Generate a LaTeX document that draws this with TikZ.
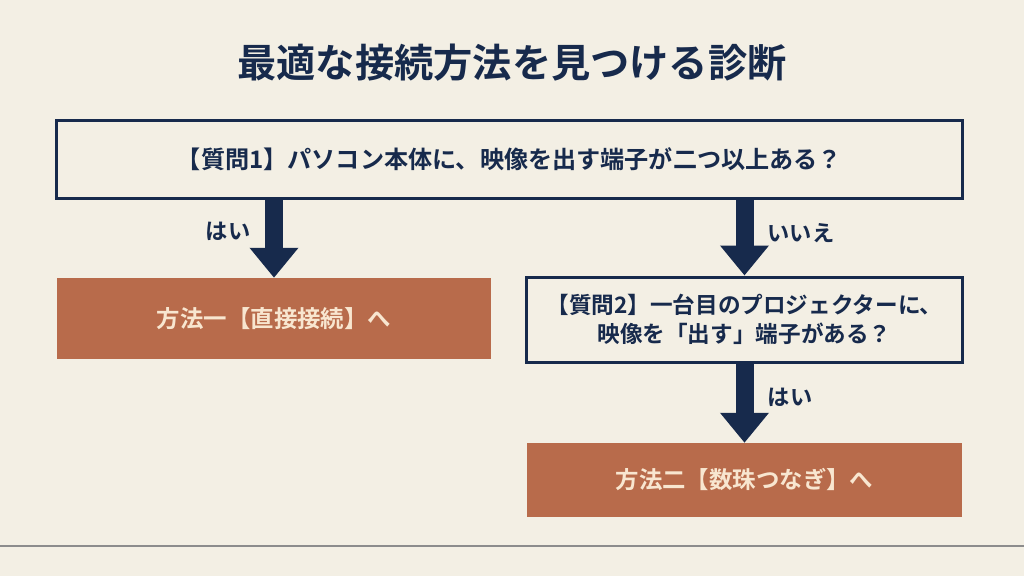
\documentclass[tikz,border=0pt]{standalone}
\usepackage{fontspec}
\setmainfont{Noto Sans CJK JP}[BoldFont={Noto Sans CJK JP Bold}]
\usetikzlibrary{arrows.meta}
\definecolor{bgc}{HTML}{F3EFE4}
\definecolor{navy}{HTML}{172A4C}
\definecolor{rust}{HTML}{B86B4B}
\definecolor{cream}{HTML}{F8E6D0}
\definecolor{rulec}{HTML}{8C8C8C}
\begin{document}
\begin{tikzpicture}[x=0.03cm,y=-0.03cm,
  qbox/.style={draw=navy,line width=0.09cm,fill=bgc,inner sep=0pt,text=navy,font=\bfseries\fontsize{19.3pt}{25pt}\selectfont,align=center},
  rbox/.style={fill=rust,inner sep=0pt,text=cream,font=\bfseries\fontsize{20pt}{25pt}\selectfont,align=center},
  lbl/.style={text=navy,font=\bfseries\fontsize{19pt}{23pt}\selectfont,inner sep=0pt},
  bigarrow/.style={draw=navy,line width=0.54cm,-{Triangle[width=1.41cm,length=0.9cm]}}]
\fill[bgc] (0,0) rectangle (1024,576);
\useasboundingbox (0,0) rectangle (1024,576);
\node[text=navy,font=\bfseries\fontsize{33.5pt}{36pt}\selectfont] (title) at (512,63) {最適な接続方法を見つける診断};
\node[qbox,minimum width=27.15cm,minimum height=2.34cm] (q1) at (509.5,159) {\fontsize{20.6pt}{25pt}\selectfont【質問1】パソコン本体に、映像を出す端子が二つ以上ある？};
\node[rbox,minimum width=13.02cm,minimum height=2.43cm] (m1) at (274,318.5) {方法一【直接接続】へ};
\node[qbox,minimum width=13.05cm,minimum height=2.55cm] (q2) at (744.5,319.5) {【質問2】一台目のプロジェクターに、\\映像を「出す」端子がある？};
\node[rbox,minimum width=13.05cm,minimum height=2.22cm] (m2) at (744.5,480) {方法二【数珠つなぎ】へ};
\draw[bigarrow] (q1.south -| m1.north) -- (m1.north);
\draw[bigarrow] (q1.south -| q2.north) -- (q2.north);
\draw[bigarrow] (q2.south) -- (m2.north);
\node[lbl] (yes1) at (228,231) {はい};
\node[lbl] (no1) at (801,233) {いいえ};
\node[lbl] (yes2) at (790,397) {はい};
\coordinate (rl) at (0,546);
\coordinate (rr) at (1024,546);
\draw[rulec,line width=0.045cm] (rl) -- (rr);
\end{tikzpicture}
\end{document}
